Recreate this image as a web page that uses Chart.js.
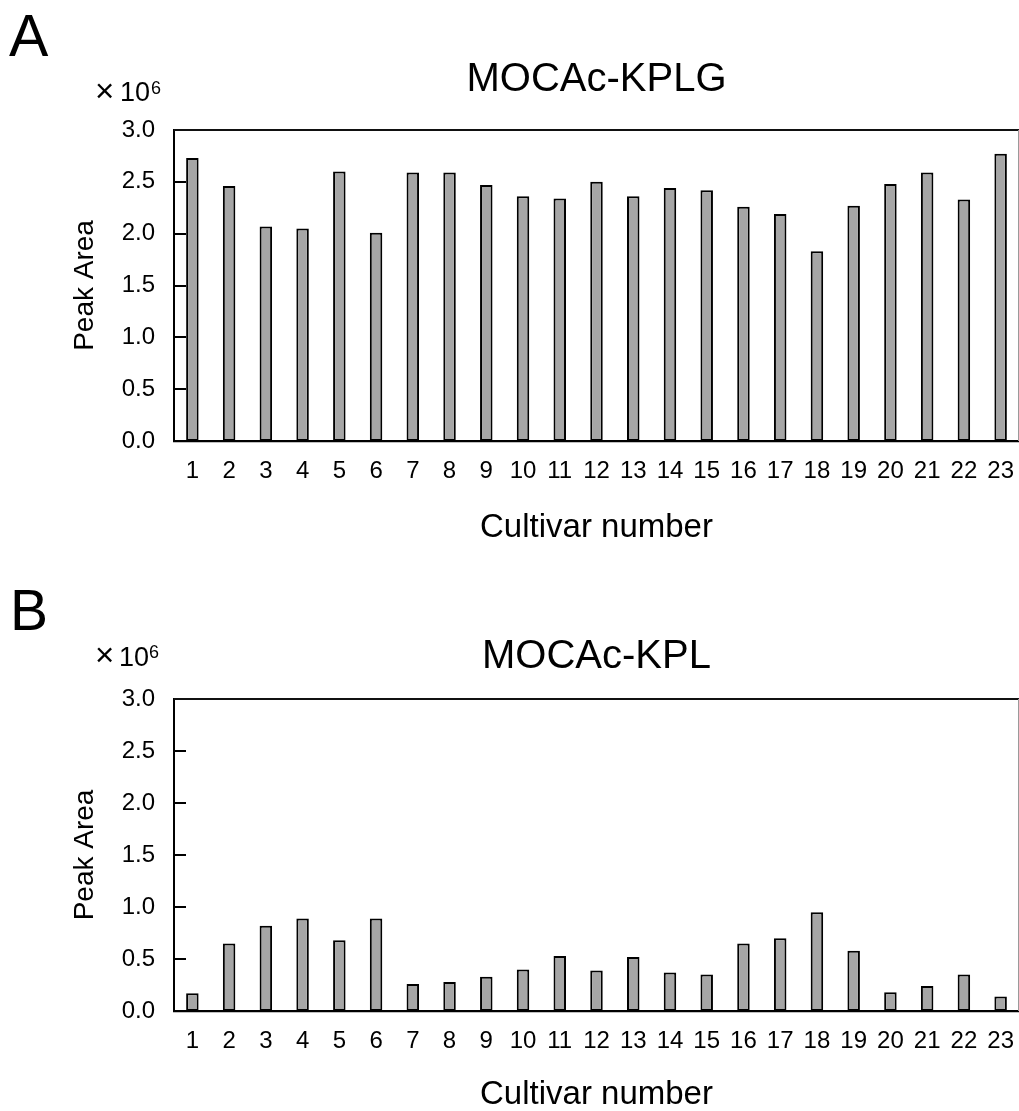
<!DOCTYPE html>
<html>
<head>
<meta charset="utf-8">
<script src="https://cdn.jsdelivr.net/npm/chart.js@4.4.1/dist/chart.umd.min.js"></script>
<style>
html,body{margin:0;padding:0;background:#fff;}
body{width:1019px;height:1111px;position:relative;overflow:hidden;font-family:"Liberation Sans",Arial,sans-serif;color:#000;}
.panel{position:absolute;left:0;width:1019px;}
.panel canvas{display:block;}
.lbl{position:absolute;line-height:1;white-space:nowrap;}
</style>
</head>
<body>
<div class="panel" style="top:0;height:555px"><canvas id="cA" width="1019" height="555"></canvas></div>
<div class="panel" style="top:555px;height:556px"><canvas id="cB" width="1019" height="556"></canvas></div>
<div class="lbl" style="left:9px;top:7px;font-size:59px">A</div>
<div class="lbl" style="left:95px;top:74px;font-size:33px">×</div>
<div class="lbl" style="left:120px;top:79px;font-size:27px">10</div>
<div class="lbl" style="left:151px;top:79px;font-size:18px">6</div>
<div class="lbl" style="left:10px;top:582px;font-size:57px">B</div>
<div class="lbl" style="left:95px;top:638px;font-size:33px">×</div>
<div class="lbl" style="left:119px;top:644px;font-size:27px">10</div>
<div class="lbl" style="left:149px;top:643px;font-size:18px">6</div>
<script>
// ---- data ----
const cultivars = ['1','2','3','4','5','6','7','8','9','10','11','12','13','14','15','16','17','18','19','20','21','22','23'];
const kplgArea = [2.73, 2.46, 2.07, 2.05, 2.60, 2.01, 2.59, 2.59, 2.47, 2.36, 2.34, 2.50, 2.36, 2.44, 2.42, 2.26, 2.19, 1.83, 2.27, 2.48, 2.59, 2.33, 2.77];
const kplArea  = [0.17, 0.65, 0.82, 0.89, 0.68, 0.89, 0.26, 0.28, 0.33, 0.40, 0.53, 0.39, 0.52, 0.37, 0.35, 0.65, 0.70, 0.95, 0.58, 0.18, 0.24, 0.35, 0.14];
const titleA = 'MOCAc-KPLG';
const titleB = 'MOCAc-KPL';
const xTitle = 'Cultivar number';
const yTitle = 'Peak Area';
const yMin = 0, yMax = 3, yStep = 0.5;

const FONT = '"Liberation Sans", Arial, sans-serif';
Chart.defaults.font.family = FONT;
Chart.defaults.color = '#000';

const framePlugin = {
  id: 'frame',
  afterDatasetsDraw(chart) {
    const {ctx, chartArea: {left, right, top, bottom}} = chart;
    const ys = chart.scales.y;
    ctx.save();
    ctx.strokeStyle = '#000';
    ctx.lineWidth = 2;
    ys.ticks.forEach(t => {
      if (t.value > yMin && t.value < yMax) {
        const py = Math.round(ys.getPixelForValue(t.value));
        ctx.beginPath();
        ctx.moveTo(left, py);
        ctx.lineTo(left + 12, py);
        ctx.stroke();
      }
    });
    ctx.lineWidth = 1.8;
    ctx.strokeStyle = '#111';
    ctx.beginPath();
    ctx.moveTo(left, top);
    ctx.lineTo(right, top);
    ctx.stroke();
    ctx.strokeStyle = '#9a9a9a';
    ctx.lineWidth = 1;
    ctx.beginPath();
    ctx.moveTo(right - 0.5, top);
    ctx.lineTo(right - 0.5, bottom);
    ctx.stroke();
    ctx.restore();
  }
};

function makeChart(id, values, title, cfg) {
  return new Chart(document.getElementById(id), {
    type: 'bar',
    data: {
      labels: cultivars,
      datasets: [{
        data: values,
        backgroundColor: '#a6a6a6',
        borderColor: '#000',
        borderWidth: 2,
        borderSkipped: false,
        categoryPercentage: 1,
        barPercentage: 0.34
      }]
    },
    options: {
      responsive: false,
      animation: false,
      layout: {padding: {top: 0, left: 0, right: 0, bottom: cfg.padBottom}},
      plugins: {
        legend: {display: false},
        tooltip: {enabled: false},
        title: {
          display: true,
          text: title,
          fullSize: false,
          color: '#000',
          font: {size: 40, weight: 'normal', family: FONT, lineHeight: 1.2},
          padding: {top: cfg.titleTop, bottom: cfg.titleBottom}
        }
      },
      scales: {
        x: {
          grid: {display: false, drawTicks: false},
          border: {display: true, color: '#000', width: 2.2},
          ticks: {font: {size: 24, lineHeight: 1.2}, padding: 16, color: '#000', maxRotation: 0, autoSkip: false},
          title: {display: true, text: xTitle, color: '#000', font: {size: 33, lineHeight: 1}, padding: {top: 0, bottom: cfg.xTitleBottom}},
          afterFit(s) { s.height = cfg.xHeight; s.paddingLeft = 0; s.paddingRight = 0; }
        },
        y: {
          min: yMin, max: yMax,
          grid: {display: false, drawTicks: false},
          border: {display: true, color: '#000', width: 2},
          ticks: {stepSize: yStep, font: {size: 24, lineHeight: 1.2}, padding: 19, color: '#000',
                  callback: v => Number(v).toFixed(1)},
          title: {display: true, text: yTitle, color: '#000', font: {size: 28, lineHeight: 1.2}, padding: {top: 68, bottom: 0}},
          afterFit(s) { s.width = 174; }
        }
      }
    },
    plugins: [framePlugin]
  });
}

makeChart('cA', kplgArea, titleA, {padBottom: 4, titleTop: 56, titleBottom: 26, xHeight: 110, xTitleBottom: 7});
makeChart('cB', kplArea, titleB, {padBottom: 0, titleTop: 78, titleBottom: 18, xHeight: 100, xTitleBottom: 0});
</script>
</body>
</html>
